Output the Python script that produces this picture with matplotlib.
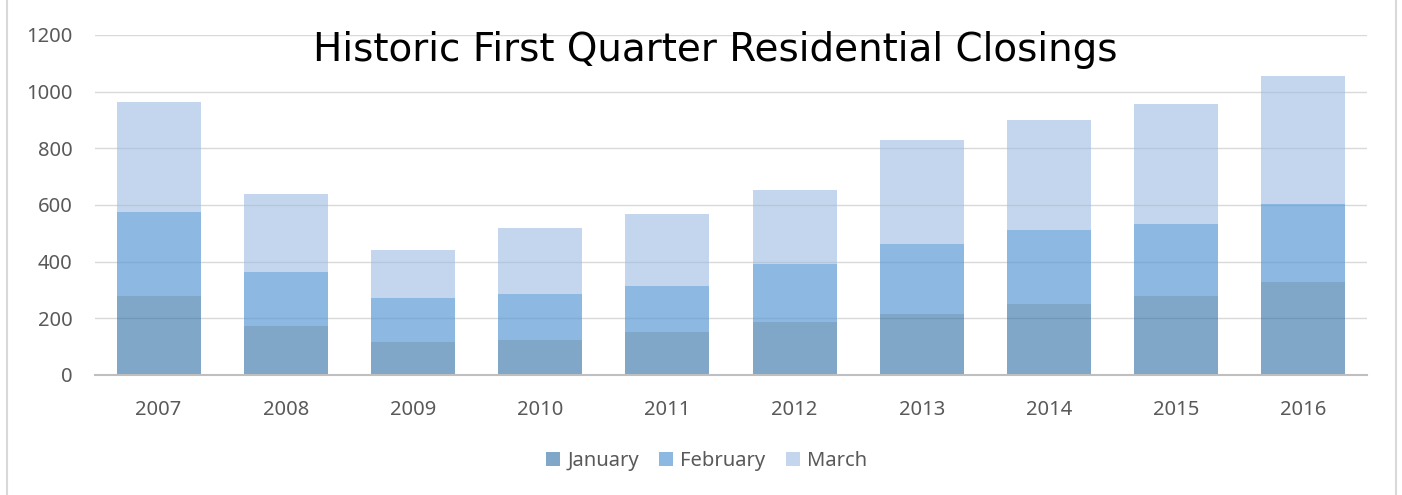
import numpy as np
import matplotlib.pyplot as plt
from matplotlib.lines import Line2D

# Data (closings per month)
years = ["2007", "2008", "2009", "2010", "2011", "2012", "2013", "2014", "2015", "2016"]
january = [279, 173, 116, 124, 152, 187, 215, 251, 279, 328]
february = [296, 191, 156, 162, 162, 205, 247, 261, 254, 276]
march = [388, 275, 169, 233, 254, 261, 367, 388, 423, 451]
y_ticks = [0, 200, 400, 600, 800, 1000, 1200]

plt.rcParams['font.family'] = ['Noto Sans', 'DejaVu Sans']

fig = plt.figure(figsize=(14.02, 4.95), dpi=100)
ax = fig.add_axes([95 / 1402, 1 - 375 / 495, 1272 / 1402, 340 / 495])

x = np.arange(len(years))
w = 0.66
jan = np.array(january)
feb = np.array(february)
mar = np.array(march)

ax.bar(x, jan, w, color="#2E6DA4", alpha=0.6, label="January", zorder=2)
ax.bar(x, feb, w, bottom=jan, color="#5B9BD5", alpha=0.7, label="February", zorder=2)
ax.bar(x, mar, w, bottom=jan + feb, color="#9EBCE1", alpha=0.6, label="March", zorder=2)

ax.set_xlim(-0.5, len(years) - 0.5)
ax.set_ylim(0, 1200)
ax.set_yticks(y_ticks)
ax.set_xticks(x)
ax.set_xticklabels(years)
ax.grid(axis="y", color="#D9D9D9", linewidth=1.0, zorder=0)
ax.set_axisbelow(True)
for s in ["top", "right", "left"]:
    ax.spines[s].set_visible(False)
ax.spines["bottom"].set_color("#BFBFBF")
ax.spines["bottom"].set_linewidth(1.5)
ax.spines["bottom"].set_zorder(3)
ax.tick_params(axis="both", length=0, labelsize=14.5, labelcolor="#595959")
ax.tick_params(axis="x", pad=18)
ax.tick_params(axis="y", pad=16)

ax.text(0.488, 0.9235, "Historic First Quarter Residential Closings",
        transform=ax.transAxes, ha="center", va="baseline",
        fontsize=28, color="black", family=["DejaVu Sans"])

fig.legend(loc="center", bbox_to_anchor=(706.5 / 1402, 1 - 461 / 495), ncol=3,
           frameon=False, fontsize=14.5, labelcolor="#595959",
           handlelength=0.7, handleheight=0.7, handletextpad=0.35, columnspacing=1.0)

# chart frame edges
fig.add_artist(Line2D([7 / 1402, 7 / 1402], [0, 1], color="#D9D9D9", linewidth=1.5))
fig.add_artist(Line2D([1396 / 1402, 1396 / 1402], [0, 1], color="#D9D9D9", linewidth=1.5))

fig.savefig("out.png", dpi=100)
